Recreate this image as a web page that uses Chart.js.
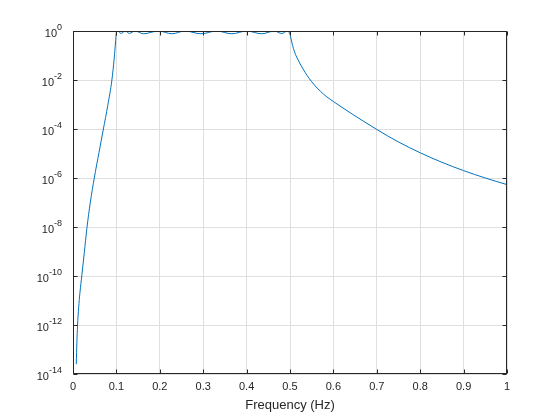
<!DOCTYPE html>
<html>
<head>
<meta charset="utf-8">
<script src="https://cdn.jsdelivr.net/npm/chart.js@4.4.1/dist/chart.umd.min.js"></script>
<style>
  html, body { margin: 0; padding: 0; background: #fff; }
  #wrap { width: 560px; height: 420px; position: relative; }
</style>
</head>
<body>
<div id="wrap"><canvas id="c"></canvas></div>
<script>
// magnitude response, values
const freq = [0.0075, 0.009, 0.0104, 0.013, 0.016, 0.0205, 0.026, 0.032, 0.04, 0.049, 0.06, 0.07, 0.08, 0.0896, 0.095, 0.098, 0.1,
  0.1025, 0.111, 0.12, 0.13, 0.143, 0.162, 0.197, 0.228, 0.258, 0.295, 0.331, 0.366, 0.4, 0.435, 0.464, 0.481, 0.494,
  0.5, 0.504, 0.508, 0.513, 0.52, 0.53, 0.54, 0.55, 0.56, 0.57, 0.585, 0.6, 0.62, 0.646, 0.67, 0.7, 0.75, 0.8, 0.85, 0.9, 0.95, 1.0];
const mag = [2.5e-14, 2e-13, 8.9e-13, 5e-12, 2.1e-11, 1.12e-10, 8.9e-10, 8.9e-9, 1.05e-7, 1e-6, 1.12e-5, 1e-4, 8.9e-4, 1e-2, 0.079, 0.355, 0.89,
  1.0, 0.8, 1.0, 0.8, 1.0, 0.77, 1.0, 0.77, 1.0, 0.77, 1.0, 0.77, 1.0, 0.77, 1.0, 0.79, 1.0,
  0.724, 0.355, 0.191, 0.107, 0.0589, 0.0282, 0.0148, 0.00851, 0.00525, 0.00347, 0.00204, 0.00132, 7.59e-4, 3.8e-4, 2.04e-4,
  9.55e-5, 2.95e-5, 1.07e-5, 4.37e-6, 2e-6, 1e-6, 5.37e-7];

const xTicks = [0, 0.1, 0.2, 0.3, 0.4, 0.5, 0.6, 0.7, 0.8, 0.9, 1];
const xTickLabels = ['0', '0.1', '0.2', '0.3', '0.4', '0.5', '0.6', '0.7', '0.8', '0.9', '1'];
const yTicks = [1e-14, 1e-12, 1e-10, 1e-8, 1e-6, 1e-4, 1e-2, 1];
const yTickExp = ['-14', '-12', '-10', '-8', '-6', '-4', '-2', '0'];
const xTitle = 'Frequency (Hz)';

const AXIS = '#262626';
const GRID = '#dfdfdf';
const LINE = '#0072BD';
const FONT = '"Liberation Sans", Arial, sans-serif';

// box, inward ticks on all sides, tick labels and xlabel (matlab style)
const frame = {
  id: 'frame',
  afterDraw(chart) {
    const { ctx, chartArea: a, scales: { x, y } } = chart;
    const L = Math.round(a.left) + 0.5, R = Math.round(a.right) - 0.5;
    const T = Math.round(a.top) + 0.5, B = Math.round(a.bottom) - 0.5;
    ctx.save();
    ctx.strokeStyle = AXIS;
    ctx.lineWidth = 1;
    ctx.strokeRect(L, T, R - L, B - T);
    ctx.beginPath();
    xTicks.forEach((v) => {
      const px = Math.round(x.getPixelForValue(v)) + 0.5;
      ctx.moveTo(px, B); ctx.lineTo(px, B - 4);
      ctx.moveTo(px, T); ctx.lineTo(px, T + 4);
    });
    yTicks.forEach((v) => {
      const py = Math.round(y.getPixelForValue(v)) + 0.5;
      ctx.moveTo(L, py); ctx.lineTo(L + 4, py);
      ctx.moveTo(R, py); ctx.lineTo(R - 4, py);
    });
    ctx.stroke();

    ctx.fillStyle = AXIS;
    ctx.textBaseline = 'middle';
    ctx.textAlign = 'center';
    ctx.font = '11px ' + FONT;
    xTicks.forEach((v, i) => ctx.fillText(xTickLabels[i], x.getPixelForValue(v), B + 13));
    ctx.font = '13px ' + FONT;
    ctx.fillText(xTitle, (a.left + a.right) / 2, B + 32);

    ctx.textAlign = 'right';
    yTicks.forEach((v, i) => {
      const py = y.getPixelForValue(v);
      ctx.font = '9px ' + FONT;
      const w = ctx.measureText(yTickExp[i]).width;
      ctx.fillText(yTickExp[i], 62, py - 3);
      ctx.font = '11px ' + FONT;
      ctx.fillText('10', 62 - w, py + 3);
    });
    ctx.restore();
  },
};

new Chart(document.getElementById('c'), {
  type: 'line',
  data: {
    datasets: [{
      data: freq.map((f, i) => ({ x: f, y: mag[i] })),
      borderColor: LINE,
      borderWidth: 1,
      pointRadius: 0,
      fill: false,
      cubicInterpolationMode: 'monotone',
    }],
  },
  options: {
    responsive: true,
    maintainAspectRatio: false,
    animation: false,
    events: [],
    layout: { padding: { left: 73, right: 53, top: 31, bottom: 46 } },
    plugins: { legend: { display: false }, tooltip: { enabled: false } },
    scales: {
      x: {
        type: 'linear',
        min: 0,
        max: 1,
        afterBuildTicks: (s) => { s.ticks = xTicks.map((v) => ({ value: v })); },
        ticks: { display: false },
        grid: { color: GRID, drawTicks: false },
        border: { display: false },
      },
      y: {
        type: 'logarithmic',
        min: 1e-14,
        max: 1,
        afterBuildTicks: (s) => { s.ticks = yTicks.map((v) => ({ value: v })); },
        ticks: { display: false },
        grid: { color: GRID, drawTicks: false },
        border: { display: false },
      },
    },
  },
  plugins: [frame],
});
</script>
</body>
</html>
